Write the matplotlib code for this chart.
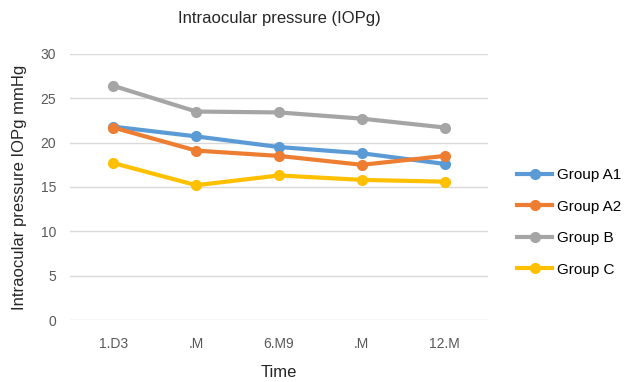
import matplotlib
matplotlib.use('Agg')
import matplotlib.pyplot as plt

# data
categories = ['1.D3', '.M', '6.M9', '.M', '12.M']
group_a1 = [21.8, 20.7, 19.5, 18.8, 17.6]
group_a2 = [21.7, 19.1, 18.5, 17.5, 18.5]
group_b = [26.4, 23.5, 23.4, 22.7, 21.7]
group_c = [17.7, 15.2, 16.3, 15.8, 15.6]

series = [
    ('Group A1', group_a1, '#5B9BD5'),
    ('Group A2', group_a2, '#ED7D31'),
    ('Group B', group_b, '#A5A5A5'),
    ('Group C', group_c, '#FFC000'),
]

plt.rcParams['font.family'] = ['Liberation Sans', 'DejaVu Sans']

fig = plt.figure(figsize=(6.27, 3.82), dpi=100)
ax = fig.add_axes([0.112, 0.162, 0.666, 0.697])

x = range(len(categories))
for name, vals, col in series:
    ax.plot(x, vals, color=col, lw=3, marker='o', ms=7, label=name)

ax.set_ylim(0, 30)
ax.set_yticks(range(0, 31, 5))
ax.set_xlim(-0.52, 4.52)
ax.set_xticks(list(x))
ax.set_xticklabels(categories)
ax.grid(axis='y', color='#D9D9D9', lw=1)
ax.set_axisbelow(True)
for s in ax.spines.values():
    s.set_visible(False)
ax.tick_params(length=0, colors='#595959', labelsize=10)
ax.tick_params(axis='x', pad=12)
ax.tick_params(axis='y', pad=10)

ax.set_title('Intraocular pressure (IOPg)', fontsize=12, color='#262626', pad=22)
ax.set_xlabel('Time', fontsize=12, color='#262626', labelpad=10)
ax.set_ylabel('Intraocular pressure IOPg mmHg', fontsize=12, color='#262626', labelpad=10)

leg = fig.legend(loc='center left', bbox_to_anchor=(0.803, 0.418), frameon=False,
                 fontsize=11, handlelength=2.3, labelspacing=1.15, handletextpad=0.3)

fig.savefig('out.png', dpi=100)
